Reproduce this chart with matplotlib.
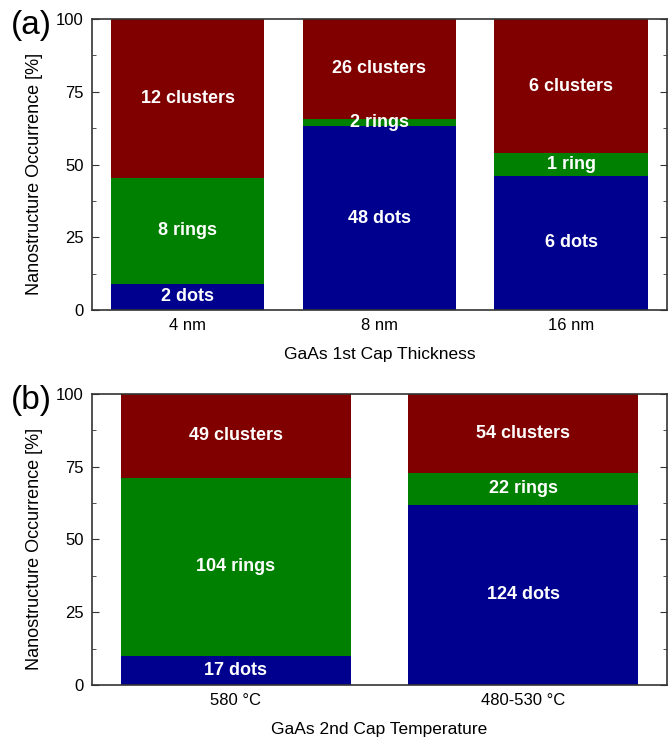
import matplotlib
matplotlib.use("Agg")
import matplotlib.pyplot as plt
import numpy as np
from matplotlib.ticker import MultipleLocator

plt.rcParams['font.family'] = ['Liberation Sans', 'DejaVu Sans']

# Panel (a): GaAs 1st cap thickness
cap_thickness = ["4 nm", "8 nm", "16 nm"]
dots_a = [2, 48, 6]
rings_a = [8, 2, 1]
clusters_a = [12, 26, 6]

# Panel (b): GaAs 2nd cap temperature
cap_temperature = ["580 °C", "480-530 °C"]
dots_b = [17, 124]
rings_b = [104, 22]
clusters_b = [49, 54]

C_DOTS = "#00008f"
C_RINGS = "#008000"
C_CLUSTERS = "#800000"


def plural(n, word):
    return f"{n} {word}" if n != 1 else f"{n} {word[:-1]}"


def draw_panel(ax, cats, dots, rings, clusters, xlabel):
    dots = np.asarray(dots, float)
    rings = np.asarray(rings, float)
    clusters = np.asarray(clusters, float)
    total = dots + rings + clusters
    p_d = dots / total * 100
    p_r = rings / total * 100
    p_c = clusters / total * 100
    x = np.arange(len(cats))
    w = 0.8
    ax.bar(x, p_d, w, color=C_DOTS, linewidth=0)
    ax.bar(x, p_r, w, bottom=p_d, color=C_RINGS, linewidth=0)
    ax.bar(x, p_c, w, bottom=p_d + p_r, color=C_CLUSTERS, linewidth=0)
    for i in range(len(cats)):
        segs = [(p_d[i], 0, plural(int(dots[i]), "dots")),
                (p_r[i], p_d[i], plural(int(rings[i]), "rings")),
                (p_c[i], p_d[i] + p_r[i], plural(int(clusters[i]), "clusters"))]
        for h, b, txt in segs:
            ax.text(x[i], b + h / 2, txt, ha="center", va="center",
                    color="white", fontweight="bold", fontsize=13)
    ax.set_xlim(-0.5, len(cats) - 0.5)
    ax.set_ylim(0, 100)
    ax.set_xticks(x)
    ax.set_xticklabels(cats, fontsize=12)
    ax.yaxis.set_major_locator(MultipleLocator(25))
    ax.yaxis.set_minor_locator(MultipleLocator(12.5))
    ax.tick_params(axis="y", which="both", direction="in", right=True,
                   labelsize=12, color="#333333")
    ax.tick_params(axis="y", which="major", length=5, pad=6)
    ax.tick_params(axis="y", which="minor", length=3)
    ax.tick_params(axis="x", length=0, pad=6)
    ax.set_ylabel("Nanostructure Occurrence [%]", fontsize=13)
    ax.yaxis.set_label_coords(-0.085, 0.466)
    ax.set_xlabel(xlabel, fontsize=12.5, labelpad=10)
    for s in ax.spines.values():
        s.set_color("#333333")
        s.set_linewidth(1.2)


fig = plt.figure(figsize=(6.70, 7.41), dpi=100)
ax_a = fig.add_axes([0.1373, 0.5816, 0.8582, 0.3928])
ax_b = fig.add_axes([0.1373, 0.0756, 0.8582, 0.3927])

draw_panel(ax_a, cap_thickness, dots_a, rings_a, clusters_a, "GaAs 1st Cap Thickness")
draw_panel(ax_b, cap_temperature, dots_b, rings_b, clusters_b, "GaAs 2nd Cap Temperature")

fig.text(0.016, 0.986, "(a)", fontsize=24, va="top", ha="left")
fig.text(0.016, 0.480, "(b)", fontsize=24, va="top", ha="left")

fig.savefig("out.png", dpi=100)
